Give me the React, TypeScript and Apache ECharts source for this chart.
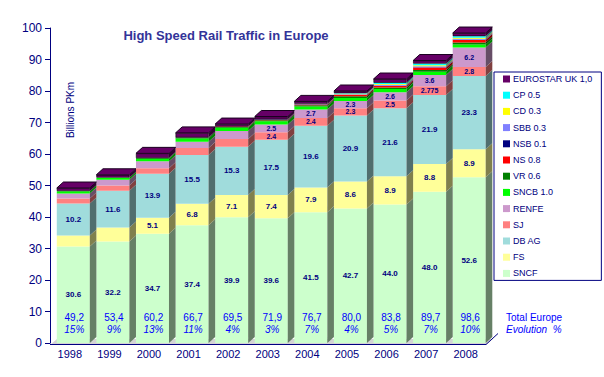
import React, { useEffect, useRef } from "react";
import * as echarts from "echarts";

const years = ["1998", "1999", "2000", "2001", "2002", "2003", "2004", "2005", "2006", "2007", "2008"];
const sncf = [30.6, 32.2, 34.7, 37.4, 39.9, 39.6, 41.5, 42.7, 44.0, 48.0, 52.6];
const fs = [3.5, 4.5, 5.1, 6.8, 7.1, 7.4, 7.9, 8.6, 8.9, 8.8, 8.9];
const dbag = [10.2, 11.6, 13.9, 15.5, 15.3, 17.5, 19.6, 20.9, 21.6, 21.9, 23.3];
const sj = [1.6, 1.7, 1.8, 2.2, 2.5, 2.4, 2.4, 2.3, 2.5, 2.775, 2.8];
const renfe = [1.6, 1.8, 2.2, 2.0, 2.5, 2.5, 2.7, 2.3, 2.6, 3.6, 6.2];
const sncb = [0.7, 0.7, 0.8, 1.0, 1.0, 1.0, 1.0, 1.0, 1.0, 1.0, 1.0];
const vr = [0, 0, 0.2, 0.3, 0.3, 0.3, 0.4, 0.5, 0.5, 0.6, 0.6];
const ns = [0, 0, 0, 0, 0.1, 0.2, 0.2, 0.4, 0.5, 0.8, 0.8];
const nsb = [0, 0, 0, 0, 0, 0.1, 0.1, 0.1, 0.1, 0.1, 0.1];
const sbb = [0, 0, 0, 0, 0, 0, 0.1, 0.2, 0.3, 0.3, 0.3];
const cd = [0, 0, 0, 0, 0, 0, 0, 0.1, 0.2, 0.3, 0.3];
const cp = [0, 0, 0, 0, 0, 0, 0, 0.2, 0.4, 0.5, 0.5];
const eurostar = [1.0, 0.9, 1.5, 1.5, 0.8, 0.9, 0.8, 0.7, 1.2, 1.0, 1.0];

const totals = [49.2, 53.4, 60.2, 66.7, 69.5, 71.9, 76.7, 80.0, 83.8, 89.7, 98.6];
const evolution = [15, 9, 13, 11, 4, 3, 7, 4, 5, 7, 10];

const seriesNames = ["SNCF", "FS", "DB AG", "SJ", "RENFE", "SNCB 1.0", "VR 0.6", "NS 0.8", "NSB 0.1", "SBB 0.3", "CD 0.3", "CP 0.5", "EUROSTAR UK 1,0"];
const seriesData = [sncf, fs, dbag, sj, renfe, sncb, vr, ns, nsb, sbb, cd, cp, eurostar];
const seriesColors = ["#CCFFCC", "#FFFF99", "#A0DCDC", "#FF8080", "#CC99CC", "#00FF00", "#008000", "#FF0000", "#000080", "#8080FF", "#FFFF00", "#00FFFF", "#660066"];
// first year index from which the segment value is printed (-1: never)
const labelFrom = [0, 2, 0, 5, 5, -1, -1, -1, -1, -1, -1, -1, -1];

const FONT = "'Liberation Sans', Arial, sans-serif";
const NAVY = "#000080";
const BAR_W = 33;

function darken(hex: string, f: number) {
  const n = parseInt(hex.slice(1), 16);
  const r = Math.round(((n >> 16) & 255) * f);
  const g = Math.round(((n >> 8) & 255) * f);
  const b = Math.round((n & 255) * f);
  return `rgb(${r},${g},${b})`;
}

function fmt(v: number) {
  const t = v * 10;
  return Math.abs(t - Math.round(t)) < 1e-9 ? v.toFixed(1) : String(v);
}

export default function App() {
  const ref = useRef<HTMLDivElement>(null);
  useEffect(() => {
    document.body.style.margin = "0";
    const chart = echarts.init(ref.current!, undefined, { renderer: "svg" });

    const sideColors = seriesColors.map((c) => darken(c, 0.5));

    const barSeries = seriesNames.map((name, k) => ({
      name,
      type: "bar",
      stack: "total",
      barWidth: BAR_W,
      data: seriesData[k],
      itemStyle: {
        color: seriesColors[k],
        borderColor: k === 12 ? "#000000" : undefined,
        borderWidth: k === 12 ? 0.6 : 0,
      },
      label: {
        show: labelFrom[k] >= 0,
        position: "inside",
        fontSize: k >= 3 ? 7 : 8,
        lineHeight: k >= 3 ? 6 : 8,
        fontWeight: "bold",
        fontFamily: FONT,
        color: NAVY,
        formatter: (p: any) => (labelFrom[k] >= 0 && p.dataIndex >= labelFrom[k] ? fmt(p.value) : ""),
      },
      emphasis: { disabled: true },
      z: 3,
    }));

    const customData = years.map((_, i) => [i, ...seriesData.map((a) => a[i]), totals[i], evolution[i]]);

    const option: any = {
      animation: false,
      grid: { left: 53.5, right: 115, top: 28, bottom: 34, containLabel: false },
      graphic: [
        {
          type: "polygon",
          z: 0,
          shape: { points: [[50, 345], [486, 345], [493, 339], [57, 339]] },
          style: { fill: "#D4D4D4" },
        },
        {
          type: "polyline",
          z: 100,
          shape: { points: [[50, 344.5], [486, 344.5], [498, 333.5]] },
          style: { stroke: NAVY, lineWidth: 1, fill: null },
        },
        {
          type: "text",
          x: 226,
          y: 35,
          style: {
            text: "High Speed Rail Traffic in Europe",
            font: `bold 13px ${FONT}`,
            fill: "#333399",
            align: "center",
            verticalAlign: "middle",
          },
        },
        {
          type: "text",
          x: 70,
          y: 110,
          rotation: Math.PI / 2,
          style: {
            text: "Billions PKm",
            font: `10px ${FONT}`,
            fill: NAVY,
            align: "center",
            verticalAlign: "middle",
          },
        },
        {
          type: "text",
          x: 506,
          y: 317,
          style: { text: "Total Europe", font: `10px ${FONT}`, fill: "#0000FF", align: "left", verticalAlign: "middle" },
        },
        {
          type: "text",
          x: 506,
          y: 329,
          style: { text: "Evolution  %", font: `italic 10px ${FONT}`, fill: "#0000FF", align: "left", verticalAlign: "middle" },
        },
      ],
      legend: {
        orient: "vertical",
        left: 494,
        top: 72,
        padding: [2, 9, 2, 9],
        borderColor: NAVY,
        borderWidth: 1,
        itemWidth: 7,
        itemHeight: 7,
        itemGap: 6.2,
        itemStyle: { borderColor: "#000000", borderWidth: 0 },
        textStyle: { fontSize: 9, fontFamily: FONT, color: NAVY, lineHeight: 10, padding: [0, 0, 0, -2] },
        icon: "rect",
        selectedMode: false,
        data: [...seriesNames].reverse(),
      },
      xAxis: {
        type: "category",
        data: years,
        axisLine: { show: false },
        axisTick: { show: false },
        axisLabel: { color: NAVY, fontSize: 11, fontFamily: FONT, margin: 5, padding: [0, 7, 0, 0] },
      },
      yAxis: {
        type: "value",
        min: 0,
        max: 100,
        interval: 10,
        offset: 3.5,
        axisLine: { show: true, lineStyle: { color: NAVY, width: 1 } },
        axisTick: { show: true, length: 5, lineStyle: { color: NAVY } },
        axisLabel: { color: NAVY, fontSize: 12, fontFamily: FONT, margin: 8 },
        splitLine: { show: false },
      },
      series: [
        ...barSeries,
        {
          type: "custom",
          z: 4,
          data: customData,
          encode: { x: 0, y: 1 },
          renderItem: (params: any, api: any) => {
            const i = api.value(0);
            const base = api.coord([i, 0]);
            const bandW = api.size([1, 0])[0];
            const cx = base[0];
            const x0 = cx - BAR_W / 2;
            const x1 = cx + BAR_W / 2;
            const dx = bandW - BAR_W;
            const dy = 6;
            const children: any[] = [];
            let cum = 0;
            for (let k = 0; k < seriesNames.length; k++) {
              const v = api.value(k + 1);
              if (!(v > 0)) continue;
              const yb = api.coord([i, cum])[1];
              cum += v;
              const yt = api.coord([i, cum])[1];
              children.push({
                type: "polygon",
                shape: { points: [[x1, yb], [x1 + dx, yb - dy], [x1 + dx, yt - dy], [x1, yt]] },
                style: { fill: sideColors[k] },
              });
            }
            const ytop = api.coord([i, cum])[1];
            children.push({
              type: "polygon",
              shape: { points: [[x0, ytop], [x0 + dx, ytop - dy], [x1 + dx, ytop - dy], [x1, ytop]] },
              style: { fill: seriesColors[12], stroke: "#1a0020", lineWidth: 1 },
            });
            const tot = api.value(seriesNames.length + 1);
            const ev = api.value(seriesNames.length + 2);
            children.push({
              type: "text",
              style: {
                x: cx + 1,
                y: base[1] - 26,
                text: tot.toFixed(1).replace(".", ","),
                font: `10px ${FONT}`,
                fill: "#0000FF",
                align: "center",
                verticalAlign: "middle",
              },
            });
            children.push({
              type: "text",
              style: {
                x: cx + 1,
                y: base[1] - 14,
                text: `${ev}%`,
                font: `italic 10px ${FONT}`,
                fill: "#0000FF",
                align: "center",
                verticalAlign: "middle",
              },
            });
            return { type: "group", children };
          },
        },
      ],
    };
    chart.setOption(option);
    return () => chart.dispose();
  }, []);
  return <div ref={ref} style={{ width: 604, height: 377 }} />;
}
